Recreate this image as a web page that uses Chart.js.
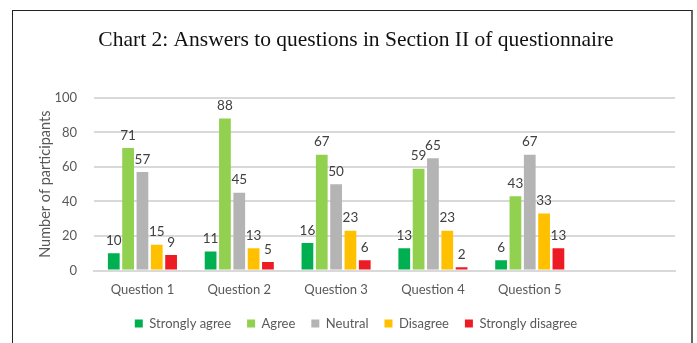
<!DOCTYPE html>
<html>
<head>
<meta charset="utf-8">
<script src="https://cdn.jsdelivr.net/npm/chart.js@4"></script>
<style>
  html, body { margin: 0; padding: 0; background: #fff; }
  #wrap { position: relative; width: 697px; height: 343px; overflow: hidden; }
  #frame {
    position: absolute; left: 12px; top: 10px; width: 681px; height: 360px;
    border-left: 1px solid #222; border-top: 1px solid #222; border-right: 2px solid #666;
    box-sizing: border-box; pointer-events: none;
  }
  canvas { position: absolute; left: 0; top: 0; }
</style>
</head>
<body>
<div id="wrap">
  <canvas id="chart" width="697" height="343"></canvas>
  <div id="frame"></div>
</div>
<script>
// values
const questions = ["Question 1", "Question 2", "Question 3", "Question 4", "Question 5", ""];
const stronglyAgree = [10, 11, 16, 13, 6];
const agree = [71, 88, 67, 59, 43];
const neutral = [57, 45, 50, 65, 67];
const disagree = [15, 13, 23, 23, 33];
const stronglyDisagree = [9, 5, 6, 2, 13];
const yTicks = [0, 20, 40, 60, 80, 100];

const seriesNames = ["Strongly agree", "Agree", "Neutral", "Disagree", "Strongly disagree"];
const seriesColors = ["#00B050", "#92D050", "#B4B4B4", "#FFC000", "#ED1C24"];
const seriesData = [stronglyAgree, agree, neutral, disagree, stronglyDisagree];

const textGrey = "#595959";
const sansFont = "Lato, 'Open Sans', sans-serif";

// draws the number above each bar
const valueLabels = {
  id: "valueLabels",
  afterDatasetsDraw(chart) {
    const ctx = chart.ctx;
    ctx.save();
    ctx.font = "13.5px " + sansFont;
    ctx.fillStyle = "#404040";
    ctx.textAlign = "center";
    ctx.textBaseline = "bottom";
    chart.data.datasets.forEach((ds, i) => {
      const meta = chart.getDatasetMeta(i);
      meta.data.forEach((bar, j) => {
        const v = ds.data[j];
        if (v === undefined || v === null) return;
        ctx.fillText(String(v), bar.x, bar.y - 6);
      });
    });
    ctx.restore();
  }
};

new Chart(document.getElementById("chart").getContext("2d"), {
  type: "bar",
  data: {
    labels: questions,
    datasets: seriesData.map((d, i) => ({
      label: seriesNames[i],
      data: d,
      backgroundColor: seriesColors[i],
      barPercentage: 0.82,
      categoryPercentage: 0.74
    }))
  },
  options: {
    responsive: false,
    animation: false,
    layout: { padding: { left: 37, right: 22, top: 27, bottom: 3 } },
    scales: {
      x: {
        grid: { display: false },
        border: { color: "#D9D9D9", width: 2 },
        ticks: { color: textGrey, font: { family: sansFont, size: 13, lineHeight: 0.8 }, padding: 6 }
      },
      y: {
        min: 0,
        max: 100,
        afterBuildTicks(axis) { axis.ticks = yTicks.map(v => ({ value: v })); },
        grid: { color: "#D9D9D9", lineWidth: 2, drawTicks: false },
        border: { display: false },
        ticks: { color: textGrey, font: { family: sansFont, size: 13 }, padding: 17 },
        title: {
          display: true,
          text: "Number of participants",
          color: textGrey,
          font: { family: sansFont, size: 14.5 },
          padding: { top: 0, bottom: -17 }
        }
      }
    },
    plugins: {
      title: {
        display: true,
        text: "Chart 2: Answers to questions in Section II of questionnaire",
        color: "#111",
        font: { family: "'Liberation Serif', 'Times New Roman', serif", size: 21.5, weight: "normal" },
        padding: { top: 0, bottom: 45 }
      },
      legend: {
        position: "bottom",
        labels: {
          color: textGrey,
          font: { family: sansFont, size: 13 },
          boxWidth: 8,
          boxHeight: 8,
          padding: 16
        }
      },
      tooltip: { enabled: false }
    }
  },
  plugins: [valueLabels]
});
</script>
</body>
</html>
